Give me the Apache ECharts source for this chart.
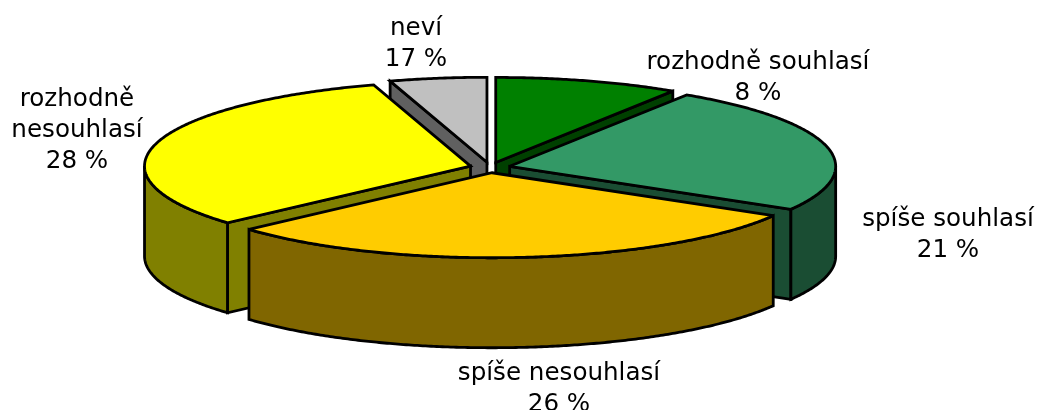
<!DOCTYPE html>
<html>
<head>
<meta charset="utf-8">
<style>html,body{margin:0;padding:0;background:#fff}#c{width:1037px;height:410px}</style>
<script src="https://cdn.jsdelivr.net/npm/echarts@6/dist/echarts.min.js"></script>
</head>
<body>
<div id="c"></div>
<script>
// Data
const categories = ['rozhodně souhlasí', 'spíše souhlasí', 'spíše nesouhlasí', 'rozhodně nesouhlasí', 'neví'];
const printedPercents = [8, 21, 26, 28, 17];           // as printed in the labels
const drawnShares = [9.14, 24.3, 29.95, 31.81, 4.8];   // slice sizes as drawn in the picture

// Styles and layout
const topColors = ['#008000', '#339966', '#FFCC00', '#FFFF00', '#C0C0C0'];
const sideColors = ['#004000', '#1A4D33', '#806600', '#808000', '#606060'];
const drawOrder = [4, 0, 3, 1, 2];
const labelLines = [['rozhodně souhlasí'], ['spíše souhlasí'], ['spíše nesouhlasí'], ['rozhodně', 'nesouhlasí'], ['neví']];
const labelCentres = [[758, 62.5], [948, 219.5], [559, 373.5], [77, 100], [416, 29]];
const lineGap = 31;
const pie = {cx: 490, cy: 167.5, rx: 326, ry: 85, depth: 90, explode: 0.062};

const total = drawnShares.reduce((a, b) => a + b, 0);
const rad = d => d * Math.PI / 180;
let running = 0;
const spans = drawnShares.map(v => {
  const s = running / total * 360;
  running += v;
  return [s, running / total * 360];
});

function renderSlice(params, api) {
  const i = api.value(0);
  const a0 = spans[i][0], a1 = spans[i][1], mid = rad((a0 + a1) / 2);
  const ox = pie.cx + pie.explode * pie.rx * Math.sin(mid);
  const oy = pie.cy - pie.explode * pie.ry * Math.cos(mid);
  const rim = d => [ox + pie.rx * Math.sin(rad(d)), oy - pie.ry * Math.cos(rad(d))];
  const down = p => [p[0], p[1] + pie.depth];
  const arc = (s, e) => {
    const pts = [], n = Math.max(2, Math.ceil((e - s) * 2));
    for (let k = 0; k <= n; k++) pts.push(rim(s + (e - s) * k / n));
    return pts;
  };
  const lineStyle = {stroke: '#000', lineWidth: 2.8, lineJoin: 'miter', miterLimit: 3};
  const poly = (points, fill) => ({type: 'polygon', shape: {points}, style: Object.assign({fill}, lineStyle)});
  const children = [];
  const apex = [ox, oy];
  // radial walls facing the viewer
  if (Math.sin(rad(a0)) < -1e-6) children.push(poly([apex, rim(a0), down(rim(a0)), down(apex)], sideColors[i]));
  if (Math.sin(rad(a1)) > 1e-6) children.push(poly([apex, rim(a1), down(rim(a1)), down(apex)], sideColors[i]));
  // outer wall (front half only)
  const ws = Math.max(a0, 90), we = Math.min(a1, 270);
  if (we > ws) {
    const top = arc(ws, we);
    children.push(poly(top.concat(top.slice().reverse().map(down)), sideColors[i]));
  }
  // top face
  children.push(poly([apex].concat(arc(a0, a1)), topColors[i]));
  // label
  const lines = labelLines[i].concat(printedPercents[i] + ' %');
  lines.forEach((t, k) => children.push({
    type: 'text',
    style: {
      text: t, x: labelCentres[i][0], y: labelCentres[i][1] + k * lineGap,
      textAlign: 'center', textVerticalAlign: 'middle',
      fontFamily: 'DejaVu Sans', fontSize: 24.6, fill: '#000'
    }
  }));
  return {type: 'group', children};
}

const chart = echarts.init(document.getElementById('c'));
chart.setOption({
  animation: false,
  backgroundColor: '#fff',
  series: [{
    type: 'custom',
    coordinateSystem: 'none',
    renderItem: renderSlice,
    data: drawOrder.map(i => ({value: [i, drawnShares[i]], name: categories[i]}))
  }]
});
</script>
</body>
</html>
